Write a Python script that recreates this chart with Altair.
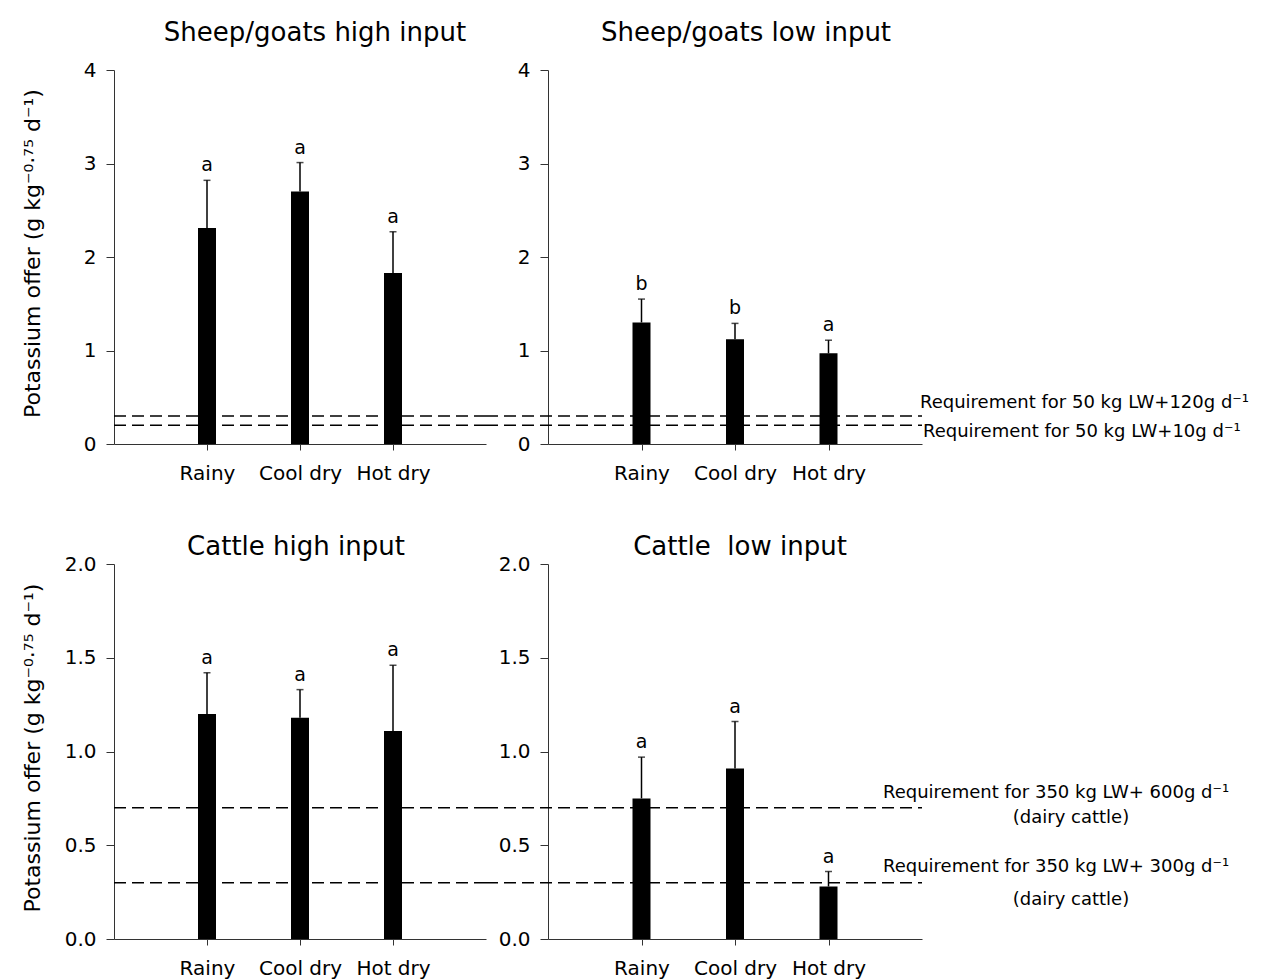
import altair as alt
import pandas as pd

categories = ["Rainy", "Cool dry", "Hot dry"]

sg_high_mean = [2.31, 2.70, 1.83]
sg_high_err = [0.51, 0.31, 0.44]
sg_high_letters = ["a", "a", "a"]

sg_low_mean = [1.30, 1.12, 0.97]
sg_low_err = [0.25, 0.17, 0.14]
sg_low_letters = ["b", "b", "a"]

cattle_high_mean = [1.20, 1.18, 1.11]
cattle_high_err = [0.22, 0.15, 0.35]
cattle_high_letters = ["a", "a", "a"]

cattle_low_mean = [0.75, 0.91, 0.28]
cattle_low_err = [0.22, 0.25, 0.08]
cattle_low_letters = ["a", "a", "a"]

sg_requirements = [0.3, 0.2]
sg_req_labels = ["Requirement for 50 kg LW+120g d\u207b\u00b9",
                 "Requirement for 50 kg LW+10g d\u207b\u00b9"]
cattle_requirements = [0.7, 0.3]
cattle_req_labels = ["Requirement for 350 kg LW+ 600g d\u207b\u00b9",
                     "Requirement for 350 kg LW+ 300g d\u207b\u00b9"]
cattle_note = "(dairy cattle)"

panel_titles = ["Sheep/goats high input", "Sheep/goats low input",
                "Cattle high input", "Cattle \u00a0low input"]
y_title = "Potassium offer (g kg\u207b\u2070\u00b7\u2077\u2075 d\u207b\u00b9)"

sg_ticks = [0, 1, 2, 3, 4]
cattle_ticks = [0.0, 0.5, 1.0, 1.5, 2.0]

FONT = "DejaVu Sans"
W_L, W_R = 372, 374
H_T, H_B = 374, 375
GAP = 62


def panel(mean, err, letters, reqs, ymax, ticks, fmt, title, title_dx,
          title_offset, width, height, show_ytitle, rule_x0, extra=None):
    df = pd.DataFrame({
        "cat": categories,
        "mean": mean,
        "upper": [m + e for m, e in zip(mean, err)],
        "letter": letters,
    })
    xenc = alt.X("cat:N", sort=categories,
                 scale=alt.Scale(type="point", padding=1),
                 axis=alt.Axis(title=None, labelAngle=0, labelFontSize=20,
                               labelPadding=13, tickSize=6,
                               domainColor="#333", tickColor="#333"))
    yscale = alt.Scale(domain=[0, ymax], nice=False)
    axis_kw = dict(values=ticks, format=fmt, labelFontSize=20, labelPadding=10,
                   tickSize=8, grid=False, domainColor="#333", tickColor="#333")
    if show_ytitle:
        yaxis = alt.Axis(title=y_title, titleFontSize=22, titleFontWeight="normal",
                         titleX=-75, titleY=height / 2 - 4,
                         titleBaseline="alphabetic", **axis_kw)
    else:
        yaxis = alt.Axis(title=None, **axis_kw)

    base = alt.Chart(df)
    req_df = pd.DataFrame({"req": reqs})
    rules = alt.Chart(req_df).mark_rule(
        strokeDash=[12, 6], strokeWidth=1.5, color="black"
    ).encode(
        y=alt.Y("req:Q", scale=yscale, axis=yaxis),
        x=alt.value(rule_x0), x2=alt.value(width),
    )
    bars = base.mark_bar(size=18, color="black").encode(
        x=xenc, y=alt.Y("mean:Q", scale=yscale, axis=yaxis))
    whisk = base.mark_rule(strokeWidth=1.5, color="black").encode(
        x=xenc, y=alt.Y("mean:Q", scale=yscale, axis=yaxis), y2="upper:Q")
    cap = base.mark_tick(orient="horizontal", size=7, thickness=1.5,
                         color="black").encode(
        x=xenc, y=alt.Y("upper:Q", scale=yscale, axis=yaxis))
    text = base.mark_text(baseline="bottom", dy=-5, fontSize=19,
                          color="black").encode(
        x=xenc, y=alt.Y("upper:Q", scale=yscale, axis=yaxis), text="letter:N")
    layers = [rules, bars, whisk, cap, text]
    if extra:
        for (val, label, xpix, dy, align) in extra:
            adf = pd.DataFrame({"req": [val], "label": [label]})
            layers.append(
                alt.Chart(adf).mark_text(align=align, baseline="alphabetic",
                                         dy=dy, fontSize=18, color="black").encode(
                    y=alt.Y("req:Q", scale=yscale, axis=yaxis),
                    x=alt.value(xpix), text="label:N"))
    return alt.layer(*layers).properties(
        width=width, height=height,
        title=alt.TitleParams(title, fontSize=26, fontWeight="normal",
                              anchor="middle", frame="group", dx=title_dx,
                              offset=title_offset, color="black"),
    )


tl = panel(sg_high_mean, sg_high_err, sg_high_letters, sg_requirements, 4,
           sg_ticks, "d", panel_titles[0], 15, 14, W_L, H_T, True, 0)
tr = panel(sg_low_mean, sg_low_err, sg_low_letters, sg_requirements, 4,
           sg_ticks, "d", panel_titles[1], 11, 14, W_R, H_T, False, -GAP,
           extra=[(sg_requirements[0], sg_req_labels[0], 372, -8, "left"),
                  (sg_requirements[1], sg_req_labels[1], 375, 12, "left")])
bl = panel(cattle_high_mean, cattle_high_err, cattle_high_letters,
           cattle_requirements, 2, cattle_ticks, ".1f", panel_titles[2], -4, -6,
           W_L, H_B, True, 0)
br = panel(cattle_low_mean, cattle_low_err, cattle_low_letters,
           cattle_requirements, 2, cattle_ticks, ".1f", panel_titles[3], 5, -6,
           W_R, H_B, False, -GAP,
           extra=[(cattle_requirements[0], cattle_req_labels[0], 335, -10, "left"),
                  (cattle_requirements[0], cattle_note, 523, 15, "center"),
                  (cattle_requirements[1], cattle_req_labels[1], 335, -11, "left"),
                  (cattle_requirements[1], cattle_note, 523, 22, "center")])

chart = alt.concat(tl, tr, bl, br, columns=2,
                   spacing={"row": 120, "column": GAP},
                   bounds="flush").properties(
    padding={"left": 12, "top": 12, "right": 5, "bottom": 5}
).configure(font=FONT).configure_view(stroke=None).configure_axis(
    labelColor="black", titleColor="black", domainWidth=1, tickWidth=1
)

chart.save("out.html", embed_options={"renderer": "svg", "actions": False})
